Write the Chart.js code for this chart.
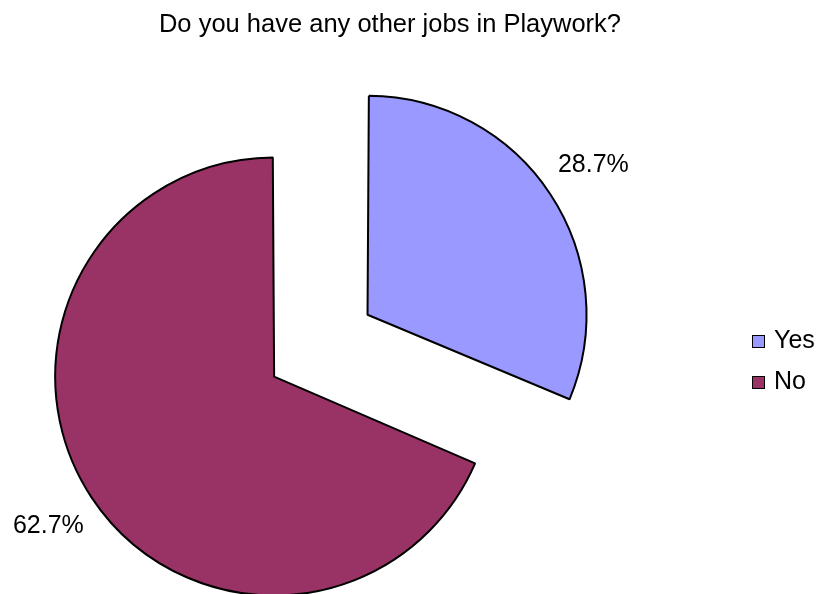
<!DOCTYPE html>
<html>
<head>
<meta charset="utf-8">
<title>Other jobs in Playwork</title>
<script src="https://cdn.jsdelivr.net/npm/chart.js@4.4.1/dist/chart.umd.min.js"></script>
<style>
  html, body { margin: 0; padding: 0; background: #fff; }
  .chart-box {
    position: relative; width: 820px; height: 594px; overflow: hidden;
    font-family: "Liberation Sans", Arial, sans-serif; color: #000;
  }
  .chart-box canvas { position: absolute; left: 0; top: 0; }
  .chart-title {
    position: absolute; left: 0; top: 11px; width: 780px; margin: 0;
    text-align: center; font-size: 25.5px; line-height: 25.5px; font-weight: normal;
  }
  .chart-legend {
    position: absolute; left: 752px; top: 327px; margin: 0; padding: 0;
    list-style: none; font-size: 25px; line-height: 25px; white-space: nowrap;
  }
  .chart-legend li { height: 41px; }
  .chart-legend .swatch {
    display: inline-block; width: 11px; height: 11px; border: 1px solid #000;
    margin-right: 9px; vertical-align: baseline;
  }
</style>
</head>
<body>
<div class="chart-box">
  <canvas id="jobsChart" width="820" height="594"></canvas>
  <h1 class="chart-title">Do you have any other jobs in Playwork?</h1>
  <ul class="chart-legend" id="jobsLegend"></ul>
</div>
<script>
// ── Other jobs in Playwork ─────────────────────
const categories = ['Yes', 'No'];
const shares = [28.7, 62.7];
const sliceColors = ['#9999FF', '#993366'];

const FONT = '25px "Liberation Sans", Arial, sans-serif';

// percentage text just outside each slice
const sliceLabels = {
  id: 'sliceLabels',
  afterDatasetsDraw(chart) {
    const { ctx } = chart;
    const meta = chart.getDatasetMeta(0);
    ctx.save();
    ctx.font = FONT;
    ctx.fillStyle = '#000';
    ctx.textAlign = 'center';
    ctx.textBaseline = 'middle';
    meta.data.forEach((arc, i) => {
      const { x, y, startAngle, endAngle, outerRadius } =
        arc.getProps(['x', 'y', 'startAngle', 'endAngle', 'outerRadius'], true);
      const mid = (startAngle + endAngle) / 2;
      // an exploded arc is pushed out by a quarter of its offset
      const dist = (arc.options.offset || 0) / 4 + outerRadius + 60;
      ctx.fillText(shares[i].toFixed(1) + '%', x + Math.cos(mid) * dist, y + Math.sin(mid) * dist);
    });
    ctx.restore();
  }
};

new Chart(document.getElementById('jobsChart').getContext('2d'), {
  type: 'pie',
  data: {
    labels: categories,
    datasets: [{
      data: shares,
      backgroundColor: sliceColors,
      borderColor: '#000', borderWidth: 2,
      offset: [415, 33], hoverOffset: 0
    }]
  },
  options: {
    responsive: false,
    animation: false,
    events: [],
    radius: 210.7,
    layout: { padding: { top: 150, right: 258, bottom: 0, left: 0 } },
    plugins: { legend: { display: false }, title: { display: false }, tooltip: { enabled: false } }
  },
  plugins: [sliceLabels]
});

// legend rows
const legendEl = document.getElementById('jobsLegend');
categories.forEach((name, i) => {
  const li = document.createElement('li');
  const sw = document.createElement('span');
  sw.className = 'swatch';
  sw.style.background = sliceColors[i];
  li.appendChild(sw);
  li.appendChild(document.createTextNode(name));
  legendEl.appendChild(li);
});
</script>
</body>
</html>
